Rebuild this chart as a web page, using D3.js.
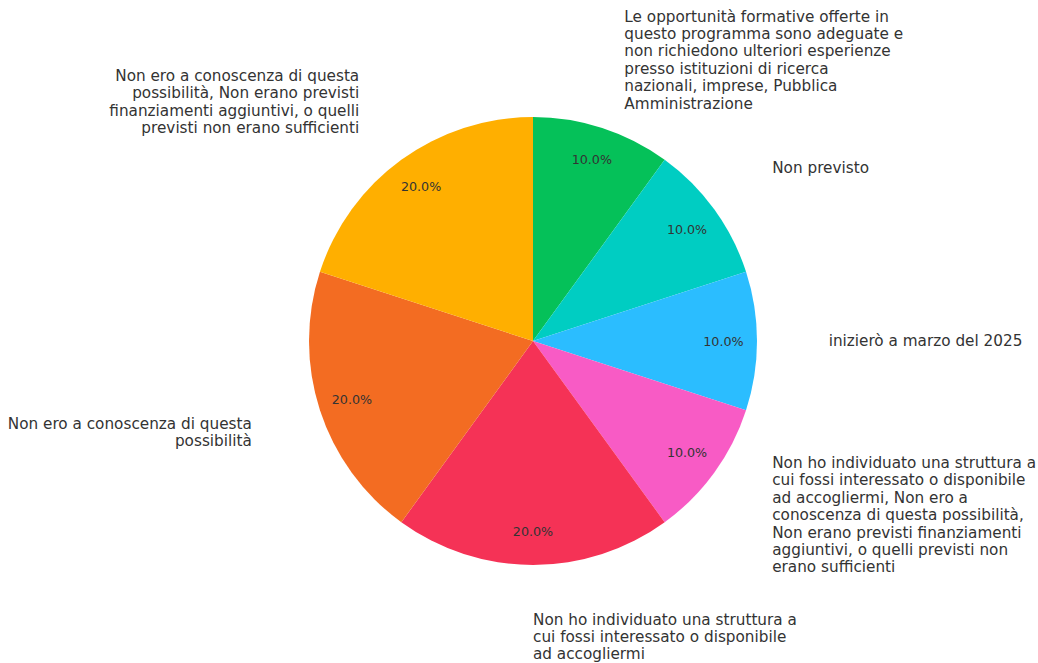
<!DOCTYPE html>
<html><head><meta charset="utf-8">
<script src="https://cdn.jsdelivr.net/npm/d3@7"></script>
<style>body{margin:0;background:#fff}svg{display:block}</style>
</head><body>
<svg id="c" width="1038" height="663"></svg>
<script>
const categories = [
  "Le opportunità formative offerte in questo programma sono adeguate e non richiedono ulteriori esperienze presso istituzioni di ricerca nazionali, imprese, Pubblica Amministrazione",
  "Non previsto",
  "inizierò a marzo del 2025",
  "Non ho individuato una struttura a cui fossi interessato o disponibile ad accogliermi, Non ero a conoscenza di questa possibilità, Non erano previsti finanziamenti aggiuntivi, o quelli previsti non erano sufficienti",
  "Non ho individuato una struttura a cui fossi interessato o disponibile ad accogliermi",
  "Non ero a conoscenza di questa possibilità",
  "Non ero a conoscenza di questa possibilità, Non erano previsti finanziamenti aggiuntivi, o quelli previsti non erano sufficienti"
];
const values = [1, 1, 1, 1, 2, 2, 2];
const colors = ["#05c159", "#00cdc2", "#2bbdff", "#f85bc5", "#f53256", "#f36c22", "#ffaf00"];

function wrap(s, w) {
  const words = s.split(" "); const lines = []; let cur = "";
  for (const wd of words) {
    if (!cur) cur = wd;
    else if ((cur + " " + wd).length <= w) cur += " " + wd;
    else { lines.push(cur); cur = wd; }
  }
  if (cur) lines.push(cur);
  return lines;
}

const svg = d3.select("#c");
const cx = 533, cy = 341, r = 224;
const g = svg.append("g").attr("transform", `translate(${cx},${cy})`);
const data = categories.map((c, i) => ({c, v: values[i], col: colors[i]}));
const total = d3.sum(values);
const arcs = d3.pie().sort(null).value(d => d.v).startAngle(0).endAngle(2 * Math.PI)(data);
const arc = d3.arc().innerRadius(0).outerRadius(r);

g.selectAll("path").data(arcs).join("path")
  .attr("d", arc).attr("fill", d => d.data.col);

const pctR = 0.85 * r, labR = 1.32 * r;
g.selectAll("text.pct").data(arcs).join("text").attr("class", "pct")
  .attr("x", d => pctR * Math.sin((d.startAngle + d.endAngle) / 2))
  .attr("y", d => -pctR * Math.cos((d.startAngle + d.endAngle) / 2))
  .attr("text-anchor", "middle").attr("dominant-baseline", "central")
  .attr("font-family", "DejaVu Sans").attr("font-size", 12.7).attr("fill", "#333")
  .text(d => (d.data.v / total * 100).toFixed(1) + "%");

const lh = 17.4;
arcs.forEach(d => {
  const a = (d.startAngle + d.endAngle) / 2;
  const x = labR * Math.sin(a), y = -labR * Math.cos(a);
  const lines = wrap(d.data.c, 35);
  const anchor = Math.sin(a) >= -1e-6 ? "start" : "end";
  const t = g.append("text").attr("font-family", "DejaVu Sans").attr("font-size", 15.25)
    .attr("fill", "#333").attr("text-anchor", anchor);
  const y0 = y - (lines.length - 1) * lh / 2;
  lines.forEach((l, i) => {
    t.append("tspan").attr("x", x).attr("y", y0 + i * lh).attr("dy", "0.35em").text(l);
  });
});
</script>
</body></html>
